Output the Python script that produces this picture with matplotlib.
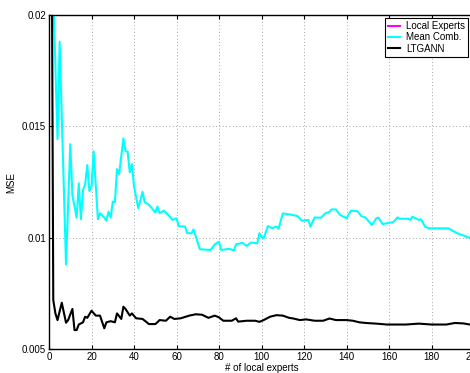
# ==========================================
# MSE vs number of local experts
# ==========================================

import matplotlib
matplotlib.use("Agg")
import matplotlib.pyplot as plt
from matplotlib.ticker import FuncFormatter

plt.rcParams["font.family"] = ["Liberation Sans", "DejaVu Sans"]
plt.rcParams["font.size"] = 7

# ------------------------------------------
# Data
# ------------------------------------------

# Local Experts stays above the plotted range, so only its legend entry shows
local_x = []
local_mse = []

mean_x = [1, 2, 4, 5, 8, 10, 11, 13, 14, 15, 16, 17, 18, 19, 20, 21, 23, 24,
          26, 27, 28, 29, 30, 31, 32, 33, 35, 36, 37, 38, 39, 40, 42, 44, 45,
          47, 50, 51, 52, 54, 57, 58, 60, 61, 64, 65, 67, 68, 71, 76, 78, 80,
          81, 85, 87, 88, 91, 93, 95, 98, 99, 100, 101, 103, 105, 107, 108,
          110, 113, 117, 119, 122, 123, 125, 127, 128, 130, 132, 133, 135,
          137, 140, 142, 145, 147, 149, 151, 152, 154, 155, 157, 160, 162,
          164, 165, 169, 170, 171, 174, 175, 177, 179, 183, 188, 190, 193,
          195, 197, 198, 200]
mean_mse = [0.030, 0.021, 0.01443, 0.0188, 0.0088, 0.0142, 0.0119, 0.0109,
            0.01244, 0.01083, 0.01214, 0.0124, 0.01326, 0.0121, 0.0123,
            0.01388, 0.01083, 0.0111, 0.0109, 0.01076, 0.01117, 0.0109,
            0.01162, 0.0116, 0.01308, 0.01286, 0.01446, 0.0139, 0.01385,
            0.01294, 0.0133, 0.0123, 0.01132, 0.01206, 0.0116, 0.01148,
            0.01114, 0.0114, 0.0111, 0.01121, 0.01094, 0.0108, 0.01087,
            0.01052, 0.0105, 0.0102, 0.0102, 0.01037, 0.00948, 0.00945,
            0.0097, 0.00982, 0.00945, 0.0095, 0.00942, 0.0097, 0.00977,
            0.00963, 0.00978, 0.00975, 0.0102, 0.01004, 0.00997, 0.01052,
            0.01043, 0.0105, 0.0104, 0.01109, 0.01105, 0.01097, 0.01076,
            0.0108, 0.0105, 0.01091, 0.0109, 0.0109, 0.01109, 0.01116,
            0.01127, 0.01127, 0.01102, 0.01087, 0.01121, 0.0112, 0.01097,
            0.0109, 0.01067, 0.01057, 0.01087, 0.0109, 0.01061, 0.01067,
            0.0107, 0.01091, 0.01085, 0.01085, 0.0108, 0.01094, 0.0108,
            0.01083, 0.01049, 0.01042, 0.01042, 0.01042, 0.01031, 0.01016,
            0.0101, 0.01002, 0.01, 0.00995]

ltgann_x = [1, 2, 3, 4, 6, 8, 9, 11, 12, 13, 14, 16, 17, 18, 20, 22, 24, 26,
            27, 29, 31, 32, 34, 35, 36, 38, 39, 41, 44, 46, 47, 50, 51, 52,
            55, 57, 59, 62, 66, 69, 72, 75, 78, 80, 82, 86, 88, 89, 93, 97,
            99, 101, 104, 107, 110, 113, 115, 118, 121, 125, 129, 132, 135,
            140, 143, 146, 149, 154, 159, 163, 168, 174, 180, 187, 191, 195,
            198, 200]
ltgann_mse = [0.030, 0.0072, 0.0066, 0.0063, 0.00708, 0.00618, 0.0063,
              0.0068, 0.00585, 0.00585, 0.0061, 0.0062, 0.00645, 0.0064,
              0.00672, 0.0065, 0.0065, 0.00593, 0.0062, 0.00625, 0.0062,
              0.0066, 0.00635, 0.0069, 0.0068, 0.0065, 0.0066, 0.00638,
              0.00635, 0.0062, 0.00612, 0.00612, 0.0062, 0.0063, 0.00627,
              0.00645, 0.00635, 0.00638, 0.0065, 0.00656, 0.00654, 0.0064,
              0.0065, 0.00642, 0.00627, 0.00627, 0.00638, 0.00623, 0.00627,
              0.00627, 0.00622, 0.0063, 0.00645, 0.00652, 0.0065, 0.0064,
              0.00637, 0.0063, 0.00633, 0.00627, 0.00627, 0.00637, 0.0063,
              0.0063, 0.00627, 0.0062, 0.00617, 0.00614, 0.0061, 0.0061,
              0.0061, 0.00614, 0.0061, 0.0061, 0.00617, 0.00615, 0.0061,
              0.0061]

x_ticks = [0, 20, 40, 60, 80, 100, 120, 140, 160, 180, 200]
y_ticks = [0.005, 0.01, 0.015, 0.02]

# ------------------------------------------
# Plot
# ------------------------------------------

fig = plt.figure(figsize=(4.7, 3.73), dpi=100)

# right edge of the axes runs just past the picture, as in the reference
ax = fig.add_axes([0.1043, 0.0643, 0.9043, 0.8954])

ax.plot(local_x, local_mse, color="#ff00ff", lw=1.5, label="Local Experts")
ax.plot(mean_x, mean_mse, color="#00ffff", lw=1.5, label="Mean Comb.")
ax.plot(ltgann_x, ltgann_mse, color="black", lw=1.5, label="LTGANN")

ax.set_xlim(0, 200)
ax.set_ylim(0.005, 0.02)

ax.set_xticks(x_ticks)
ax.set_yticks(y_ticks)
ax.yaxis.set_major_formatter(FuncFormatter(lambda v, p: "%g" % v))

ax.tick_params(direction="in", length=3, width=0.8, top=True, right=True,
               pad=2)

ax.grid(True, linestyle=(0, (1, 3)), color="#888888", linewidth=0.6)

for s in ax.spines.values():
    s.set_linewidth(1.0)

ax.set_xlabel("# of local experts", labelpad=1)
ax.set_ylabel("MSE", labelpad=4)

leg = ax.legend(
    loc="upper right",
    bbox_to_anchor=(468 / 470, 1 - 18 / 373),
    bbox_transform=fig.transFigure,
    borderaxespad=0,
    fancybox=False,
    framealpha=1,
    edgecolor="black",
    handlelength=1.3,
    handletextpad=0.6,
    borderpad=0.3,
    labelspacing=0.15,
    fontsize=7,
)
leg.get_frame().set_linewidth(0.8)

plt.savefig("out.png", dpi=100)
